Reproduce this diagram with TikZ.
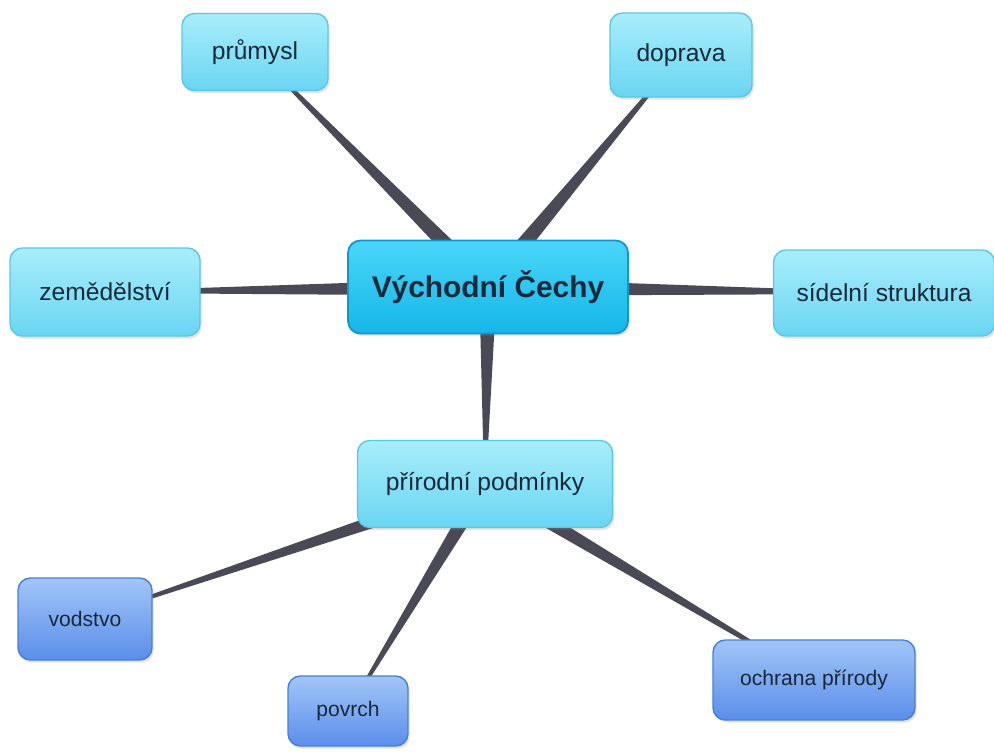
\documentclass[tikz,border=0pt]{standalone}
\usepackage{fontspec}
\setmainfont{Liberation Sans}
\usetikzlibrary{calc,shadows,backgrounds}
\definecolor{spokegray}{HTML}{4A4A56}
\definecolor{cyanline}{HTML}{58C8E6}
\definecolor{cyantop}{HTML}{A8EDFB}
\definecolor{cyanbot}{HTML}{6AD5F2}
\definecolor{maintop}{HTML}{4AD6F8}
\definecolor{mainbot}{HTML}{14B6E8}
\definecolor{mainline}{HTML}{1496CC}
\definecolor{bluetop}{HTML}{A2C5F8}
\definecolor{bluebot}{HTML}{5A8EEA}
\definecolor{blueline}{HTML}{4A7ED6}
\definecolor{inktext}{HTML}{17283A}
\tikzset{
  box/.style={rounded corners=7pt, inner sep=0pt, text=inktext,
    drop shadow={opacity=0.22, shadow xshift=1pt, shadow yshift=-1.5pt}},
  cyanbox/.style={box, draw=cyanline, line width=0.8pt, top color=cyantop,
    bottom color=cyanbot, font=\fontsize{14}{17}\selectfont},
  mainbox/.style={box, draw=mainline, line width=1pt, top color=maintop,
    bottom color=mainbot, font=\fontsize{17}{20}\selectfont\bfseries},
  bluebox/.style={box, draw=blueline, line width=0.8pt, top color=bluetop,
    bottom color=bluebot, font=\fontsize{12}{14}\selectfont},
}
\newcommand{\spoke}[3]{% parent, child, half width at parent
  \fill[spokegray] ($(#1)!#3!90:(#2)$) -- ($(#2)!0.5pt!-90:(#1)$)
    -- ($(#2)!0.5pt!90:(#1)$) -- ($(#1)!#3!-90:(#2)$) -- cycle;}
\begin{document}
\begin{tikzpicture}[x=0.02cm,y=-0.02cm]
\useasboundingbox (0,0) rectangle (994,754);
\node[mainbox, minimum width=5.6cm, minimum height=1.86cm] (cechy) at (488,287) {Východní Čechy};
\node[cyanbox, minimum width=2.92cm, minimum height=1.54cm] (prumysl) at (255,52) {průmysl};
\node[cyanbox, minimum width=2.84cm, minimum height=1.68cm] (doprava) at (681,55) {doprava};
\node[cyanbox, minimum width=3.8cm, minimum height=1.76cm] (zemedelstvi) at (105,292) {zemědělství};
\node[cyanbox, minimum width=4.42cm, minimum height=1.72cm] (sidelni) at (884,293) {sídelní struktura};
\node[cyanbox, minimum width=5.1cm, minimum height=1.74cm] (podminky) at (485,484) {přírodní podmínky};
\node[bluebox, minimum width=2.68cm, minimum height=1.64cm] (vodstvo) at (85,619) {vodstvo};
\node[bluebox, minimum width=2.4cm, minimum height=1.4cm] (povrch) at (348,711) {povrch};
\node[bluebox, minimum width=4.04cm, minimum height=1.6cm] (ochrana) at (814,680) {ochrana přírody};
\begin{scope}[on background layer]
\foreach \child in {prumysl,doprava,zemedelstvi,sidelni,podminky}
  {\spoke{cechy}{\child}{5pt}}
\foreach \child in {vodstvo,povrch,ochrana}
  {\spoke{podminky}{\child}{4.5pt}}
\end{scope}
\end{tikzpicture}
\end{document}
